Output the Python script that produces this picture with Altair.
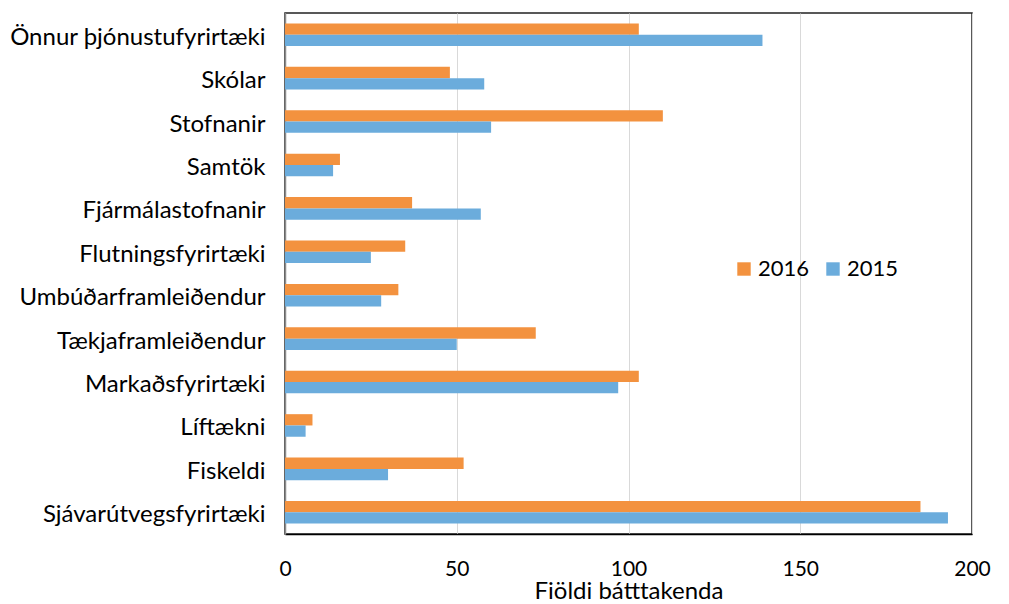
import altair as alt
import pandas as pd

categories = [
    "Önnur þjónustufyrirtæki", "Skólar", "Stofnanir", "Samtök",
    "Fjármálastofnanir", "Flutningsfyrirtæki", "Umbúðarframleiðendur",
    "Tækjaframleiðendur", "Markaðsfyrirtæki", "Líftækni", "Fiskeldi",
    "Sjávarútvegsfyrirtæki",
]
values_2016 = [103, 48, 110, 16, 37, 35, 33, 73, 103, 8, 52, 185]
values_2015 = [139, 58, 60, 14, 57, 25, 28, 50, 97, 6, 30, 193]
years = ["2016", "2015"]
x_ticks = [0, 50, 100, 150, 200]

rows = []
for c, a, b in zip(categories, values_2016, values_2015):
    rows.append({"flokkur": c, "ár": "2016", "fjöldi": a})
    rows.append({"flokkur": c, "ár": "2015", "fjöldi": b})
df = pd.DataFrame(rows)

FONT = "Lato"

chart = alt.Chart(df).mark_bar().encode(
    y=alt.Y("flokkur:N", sort=categories,
            scale=alt.Scale(paddingInner=0.48, paddingOuter=0.24),
            axis=alt.Axis(title=None, ticks=False, labelPadding=20, labelLimit=400,
                          labelOffset=3,
                          labelFontSize=24, labelFont=FONT, labelColor="#000",
                          domainColor="#8c8c8c", domainWidth=1.5)),
    yOffset=alt.YOffset("ár:N", sort=years),
    x=alt.X("fjöldi:Q", scale=alt.Scale(domain=[0, 200], nice=False),
            axis=alt.Axis(values=x_ticks, title="Fiöldi bátttakenda",
                          ticks=False, labelPadding=24, labelFontSize=21,
                          labelFlush=False,
                          labelFont=FONT, labelColor="#000",
                          titleFont=FONT, titleFontSize=24, titleFontWeight="normal",
                          titleColor="#000", titlePadding=0,
                          gridColor="#d9d9d9", gridWidth=1,
                          domainColor="#000", domainWidth=1.5)),
    color=alt.Color("ár:N", sort=years,
                    scale=alt.Scale(domain=years, range=["#F3923F", "#6BACDC"]),
                    legend=alt.Legend(title=None, orient="none", direction="horizontal",
                                      legendX=448, legendY=245,
                                      symbolType="square", symbolSize=180,
                                      symbolStrokeWidth=0, labelFontSize=22,
                                      labelFont=FONT, labelColor="#000",
                                      columnPadding=12, labelOffset=3)),
).properties(
    width=687, height=521,
    autosize=alt.AutoSizeParams(type="none"),
    padding={"left": 277, "top": 5, "right": 20, "bottom": 70},
).configure(
    background="white"
).configure_view(
    stroke="#222", strokeWidth=1.5
)

chart.save("out.html", embed_options={"renderer": "svg", "actions": False})
